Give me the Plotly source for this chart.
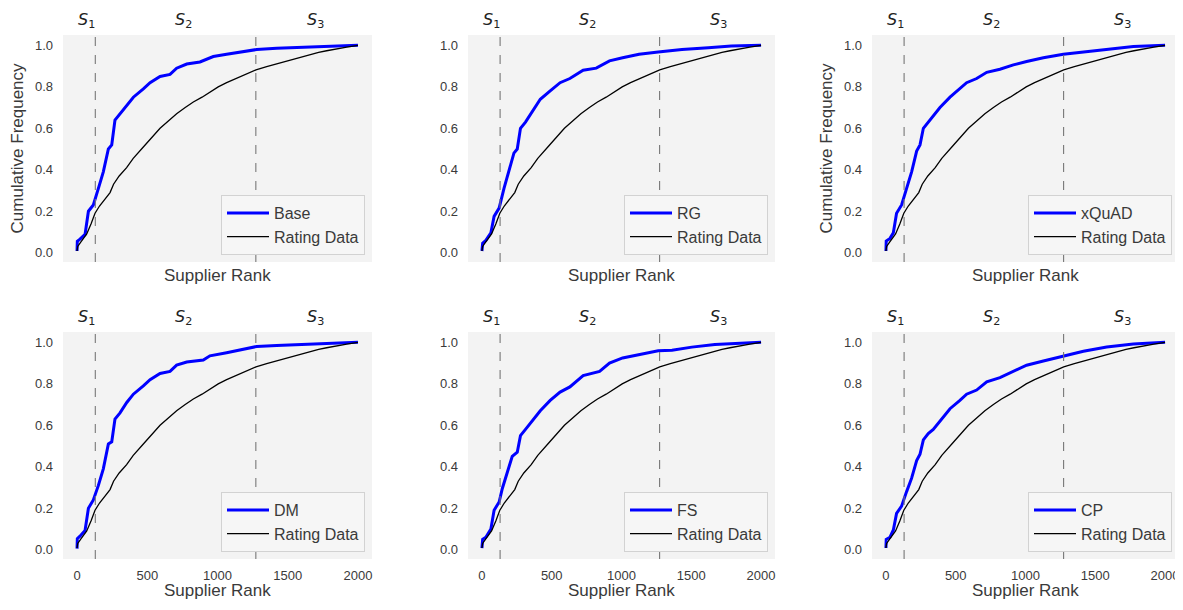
import plotly.graph_objects as go
from plotly.subplots import make_subplots

# ---------------- data ----------------
method_names = ["Base", "RG", "xQuAD", "DM", "FS", "CP"]

rating_rank = [0, 5, 25, 50, 69, 100, 128, 160, 200, 235, 260, 300, 353, 400, 472, 530, 591, 650, 709, 770,
               828, 890, 947, 1005, 1065, 1170, 1274, 1350, 1421, 1480, 1540, 1600, 1658, 1720, 1777, 1850, 1920, 2000]
rating_freq = [0.008, 0.03, 0.05, 0.07, 0.09, 0.14, 0.19, 0.225, 0.26, 0.29, 0.33, 0.37, 0.41, 0.455, 0.51, 0.555, 0.60, 0.635, 0.67, 0.70,
               0.727, 0.75, 0.775, 0.80, 0.82, 0.853, 0.882, 0.897, 0.91, 0.922, 0.934, 0.946, 0.957, 0.966, 0.974, 0.984, 0.992, 1.0]

base_rank = [0, 2, 21, 57, 81, 116, 152, 187, 223, 247, 270, 306, 354, 401, 472, 520, 591, 662, 709, 781,
             875, 923, 970, 1065, 1184, 1279, 1421, 1611, 1777, 2000]
base_freq = [0.008, 0.055, 0.065, 0.088, 0.20, 0.23, 0.31, 0.39, 0.50, 0.52, 0.64, 0.67, 0.71, 0.75, 0.79, 0.82, 0.85, 0.86, 0.89, 0.91,
             0.92, 0.933, 0.946, 0.957, 0.971, 0.98, 0.986, 0.99, 0.997, 1.0]

rg_rank = [0, 5, 28, 64, 87, 123, 158, 194, 229, 253, 276, 312, 371, 418, 489, 560, 630, 725, 819, 914,
           1008, 1126, 1263, 1433, 1622, 1787, 2000]
rg_freq = [0.008, 0.045, 0.059, 0.096, 0.175, 0.215, 0.31, 0.39, 0.48, 0.50, 0.60, 0.63, 0.69, 0.74, 0.78, 0.82, 0.84, 0.88, 0.89, 0.925,
           0.94, 0.957, 0.968, 0.98, 0.989, 0.997, 1.0]

xquad_rank = [0, 2, 29, 53, 76, 112, 148, 184, 220, 244, 268, 303, 339, 387, 459, 530, 578, 650, 722, 817,
              913, 1008, 1128, 1271, 1415, 1582, 1773, 2000]
xquad_freq = [0.008, 0.056, 0.069, 0.096, 0.19, 0.23, 0.31, 0.39, 0.49, 0.52, 0.60, 0.63, 0.66, 0.70, 0.75, 0.79, 0.82, 0.84, 0.87, 0.885,
              0.906, 0.922, 0.94, 0.957, 0.968, 0.98, 0.994, 1.0]

dm_rank = [0, 2, 21, 57, 81, 116, 152, 187, 223, 247, 270, 306, 354, 401, 472, 520, 591, 662, 709, 781,
           899, 946, 1065, 1184, 1279, 1421, 1635, 1777, 2000]
dm_freq = [0.005, 0.053, 0.065, 0.093, 0.20, 0.24, 0.31, 0.39, 0.51, 0.52, 0.63, 0.66, 0.71, 0.75, 0.79, 0.82, 0.85, 0.86, 0.89, 0.905,
           0.915, 0.935, 0.95, 0.968, 0.98, 0.985, 0.99, 0.995, 1.0]

fs_rank = [0, 5, 28, 64, 87, 123, 146, 182, 217, 253, 276, 312, 371, 418, 489, 560, 630, 725, 843, 914,
           1008, 1126, 1263, 1362, 1504, 1669, 1787, 2000]
fs_freq = [0.008, 0.05, 0.06, 0.10, 0.19, 0.23, 0.295, 0.37, 0.45, 0.47, 0.55, 0.58, 0.63, 0.67, 0.72, 0.76, 0.785, 0.84, 0.86, 0.90,
           0.925, 0.94, 0.96, 0.962, 0.977, 0.99, 0.994, 1.0]

cp_rank = [0, 2, 29, 53, 76, 112, 148, 184, 220, 244, 268, 303, 339, 387, 459, 530, 578, 650, 722, 817,
           913, 1008, 1128, 1271, 1415, 1582, 1773, 2000]
cp_freq = [0.008, 0.05, 0.06, 0.095, 0.175, 0.21, 0.28, 0.345, 0.43, 0.46, 0.53, 0.56, 0.58, 0.62, 0.68, 0.72, 0.75, 0.77, 0.81, 0.83,
           0.86, 0.89, 0.91, 0.935, 0.957, 0.978, 0.992, 1.0]

segment_bounds = [130, 1273]
segment_labels = ["<i>S</i><sub>1</sub>", "<i>S</i><sub>2</sub>", "<i>S</i><sub>3</sub>"]
segment_label_x = [70, 755, 1695]

x_ticks = [0, 500, 1000, 1500, 2000]
y_ticks = [0.0, 0.2, 0.4, 0.6, 0.8, 1.0]
y_tick_text = ["0.0", "0.2", "0.4", "0.6", "0.8", "1.0"]

methods = [(base_rank, base_freq), (rg_rank, rg_freq), (xquad_rank, xquad_freq),
           (dm_rank, dm_freq), (fs_rank, fs_freq), (cp_rank, cp_freq)]

# ---------------- layout geometry ----------------
# the page body adds an 8px margin, so the figure is drawn 8px smaller and
# every window-pixel position below is shifted by that offset
OFF = 8
W, H = 1183 - OFF, 610 - OFF
col_px = [(63, 372), (468, 775), (872, 1179)]
row_px = [(35, 262), (332, 559)]

FONT = "Liberation Sans, Arial, sans-serif"
TXT = "#3a3a3a"

fig = make_subplots(rows=2, cols=3)

annotations = []
legends = {}
for i, (name, (rk, fq)) in enumerate(zip(method_names, methods)):
    r, c = i // 3, i % 3
    leg = "legend" if i == 0 else f"legend{i+1}"
    fig.add_trace(go.Scatter(x=rk, y=fq, mode="lines", name=name,
                             line=dict(color="#0000ff", width=3), legend=leg),
                  row=r + 1, col=c + 1)
    fig.add_trace(go.Scatter(x=rating_rank, y=rating_freq, mode="lines", name="Rating Data",
                             line=dict(color="black", width=1.3), legend=leg),
                  row=r + 1, col=c + 1)
    for b in segment_bounds:
        fig.add_vline(x=b, line=dict(color="#777777", width=1.1, dash="dash"), row=r + 1, col=c + 1)

    x0, x1 = col_px[c]
    y0, y1 = row_px[r]
    x0, x1, y0, y1 = x0 - OFF, x1 - OFF, y0 - OFF, y1 - OFF
    dom_x = [x0 / W, x1 / W]
    dom_y = [1 - y1 / H, 1 - y0 / H]
    ax_idx = "" if i == 0 else str(i + 1)
    fig.layout["xaxis" + ax_idx].update(
        domain=dom_x, range=[-100, 2100], showgrid=False, zeroline=False,
        tickvals=x_ticks, showticklabels=(r == 1), ticks="",
        tickfont=dict(family=FONT, size=13, color=TXT), ticklabelstandoff=7,
        showline=False)
    fig.layout["yaxis" + ax_idx].update(
        domain=dom_y, range=[-0.045, 1.05], showgrid=False, zeroline=False,
        tickvals=y_ticks, ticktext=y_tick_text, ticks="",
        tickfont=dict(family=FONT, size=13, color=TXT), ticklabelstandoff=9,
        showline=False)

    legends[leg] = dict(
        x=(x1 - 7) / W, y=1 - (y1 - 7) / H, xanchor="right", yanchor="bottom",
        bgcolor="#f6f6f6", bordercolor="#d2d2d2", borderwidth=1,
        font=dict(family=FONT, size=16, color=TXT), tracegroupgap=0,
        itemwidth=42)

    # segment labels above each panel
    xref = "x" + ax_idx
    for lx, lt in zip(segment_label_x, segment_labels):
        annotations.append(dict(x=lx, xref=xref, y=1 - (y0 - 15) / H, yref="paper",
                                text=lt, showarrow=False, xanchor="center", yanchor="middle",
                                font=dict(family="DejaVu Sans, sans-serif", size=16, color="#222222")))
    # x-axis title
    ty = (y1 + 13) if r == 0 else (y1 + 31)
    annotations.append(dict(x=(x0 + x1) / 2 / W, xref="paper", y=1 - ty / H, yref="paper",
                            text="Supplier Rank", showarrow=False, xanchor="center", yanchor="middle",
                            font=dict(family=FONT, size=17, color=TXT)))
    # y-axis title (only on top-left and top-right panels)
    if r == 0 and c in (0, 2):
        annotations.append(dict(x=(x0 - 46) / W, xref="paper", y=1 - (y0 + y1) / 2 / H, yref="paper",
                                text="Cumulative Frequency", showarrow=False, textangle=-90,
                                xanchor="center", yanchor="middle",
                                font=dict(family=FONT, size=17, color=TXT)))

fig.update_layout(
    width=W, height=H, margin=dict(l=0, r=0, t=0, b=0),
    paper_bgcolor="white", plot_bgcolor="#f3f3f3",
    annotations=annotations, showlegend=True, **legends)

fig.write_html("out.html")
